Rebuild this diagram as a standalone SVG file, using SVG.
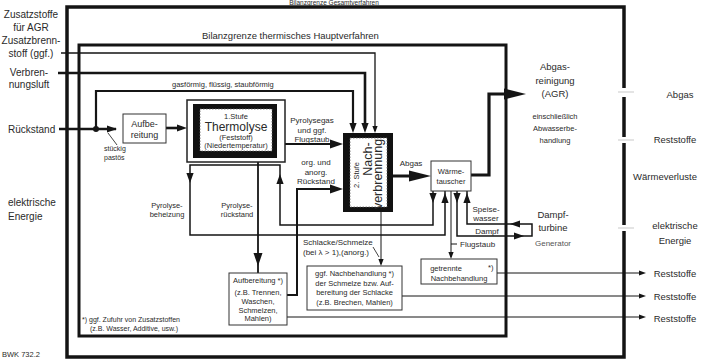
<svg xmlns="http://www.w3.org/2000/svg" width="709" height="360" viewBox="0 0 709 360">
<defs>
<style>
text{font-family:"Liberation Sans",Arial,sans-serif;fill:#2a2a2a}
.t10{font-size:10px}.t95{font-size:9.5px}.t9{font-size:9px}.t8{font-size:8px}.t75{font-size:7.5px}.t7{font-size:7px}
.m{text-anchor:middle}
.box{fill:#fff;stroke:#333;stroke-width:1}
.ln{fill:none;stroke:#151515}
.ah{fill:#151515}
</style>
<path id="a" d="M0,0 L-10,-3.6 L-10,3.6 Z"/>
<path id="aM" d="M0,0 L-13,-4.5 L-13,4.5 Z"/>
<path id="aL" d="M0,0 L-22,-5.5 L-22,5.5 Z"/>
<path id="aS" d="M0,0 L-7,-2.6 L-7,2.6 Z"/>
</defs>
<rect width="709" height="360" fill="#fff"/>

<g id="boundaries">
<text class="m" x="334" y="5" style="font-size:6.5px">Bilanzgrenze Gesamtverfahren</text>
<path d="M624,88 V7 H67 V357 H624 V231 M624,225 V143 M624,137 V97" fill="none" stroke="#141414" stroke-width="3.5"/>
<rect x="79" y="45" width="427" height="291" fill="none" stroke="#141414" stroke-width="3"/>
<text class="t95" x="202" y="39">Bilanzgrenze thermisches Hauptverfahren</text>
<path d="M618,92 H634 M618,140 H634 M618,228 H634" stroke="#bbb" stroke-width="0.8" fill="none"/>
</g>

<g id="connectors">
<g class="ln">
<path d="M61,53 H375 V131" stroke-width="1.3"/>
<path d="M58,73 H365 V128" stroke-width="2.6"/>
<path d="M96,129 V91 H353 V128" stroke-width="2.2"/>
<path d="M59,129 H116" stroke-width="2.6"/>
<path d="M166,128 H182" stroke-width="2.6"/>
<path d="M285,144 H334" stroke-width="2"/>
<path d="M287,295 H297 V189 H334" stroke-width="2"/>
<path d="M258,158 V273" stroke-width="1.8"/>
<path d="M393,176 H412" stroke-width="3"/>
<path d="M471,175 H489 V94 H506" stroke-width="3.2"/>
<path d="M433,187 V225 H280 V165 H190 V235 H445 V187 Z" stroke-width="1.5"/>
<path d="M457,187 V236 H532 V224 H467 V187 Z" stroke-width="1.5"/>
<path d="M381,212 V264" stroke-width="1"/>
<path d="M451,191 V257 M451,244 H457" stroke-width="1"/>
<path d="M497,273 H641 M402,296 H641 M287,317 H641" stroke-width="1"/>
<path d="M108,133 L117,145 M373,247 L379,257" stroke-width="0.8"/>
</g>
<g class="ah">
<use href="#aS" transform="translate(375,133) rotate(90)"/>
<use href="#a" transform="translate(365,133) rotate(90)"/>
<use href="#a" transform="translate(353,133) rotate(90)"/>
<use href="#a" transform="translate(117,129)"/>
<use href="#a" transform="translate(187,128)"/>
<use href="#aM" transform="translate(343,144)"/>
<use href="#aM" transform="translate(343,189)"/>
<use href="#aM" transform="translate(258,266) rotate(90)"/>
<use href="#aL" transform="translate(431,176)"/>
<use href="#aL" transform="translate(526,94)"/>
<use href="#a" transform="translate(433,203) rotate(90)"/>
<use href="#a" transform="translate(280,174) rotate(-90)"/>
<use href="#a" transform="translate(190,183) rotate(90)"/>
<use href="#a" transform="translate(445,193) rotate(-90)"/>
<use href="#a" transform="translate(457,203) rotate(90)"/>
<use href="#a" transform="translate(467,193) rotate(-90)"/>
<use href="#a" transform="translate(524,236)"/>
<use href="#a" transform="translate(510,224) rotate(180)"/>
<use href="#aS" transform="translate(381,266) rotate(90)"/>
<use href="#aS" transform="translate(451,259) rotate(90)"/>
<use href="#aS" transform="translate(646,273)"/>
<use href="#aS" transform="translate(646,296)"/>
<use href="#aS" transform="translate(646,317)"/>
</g>
<circle cx="96" cy="129" r="3" fill="#151515"/>
<text class="t75" x="172" y="86.5">gasförmig, flüssig, staubförmig</text>
<text class="t7" x="104" y="151">stückig</text>
<text class="t7" x="104" y="160">pastös</text>
<text class="t8 m" x="312" y="122.5">Pyrolysegas</text>
<text class="t8 m" x="312" y="132.5">und ggf.</text>
<text class="t8 m" x="312" y="141.5">Flugstaub</text>
<text class="t8 m" x="316" y="165">org. und</text>
<text class="t8 m" x="316" y="175">anorg.</text>
<text class="t8 m" x="316" y="184">Rückstand</text>
<text class="t8 m" x="411" y="166">Abgas</text>
<text class="t75 m" x="167" y="208">Pyrolyse-</text>
<text class="t75 m" x="167" y="217">beheizung</text>
<text class="t75 m" x="237" y="208">Pyrolyse-</text>
<text class="t75 m" x="237" y="217">rückstand</text>
<text class="t8" x="303" y="244.5">Schlacke/Schmelze</text>
<text class="t8" x="303" y="254.5">(bei λ &gt; 1),(anorg.)</text>
<text class="t8 m" x="486" y="212">Speise-</text>
<text class="t8 m" x="486" y="221">wasser</text>
<text class="t8 m" x="487" y="233.5">Dampf</text>
<text class="t8" x="460" y="247">Flugstaub</text>
</g>

<g id="n-aufbereitung">
<rect class="box" x="123" y="114" width="43" height="29"/>
<text class="t9 m" x="144.5" y="126.5">Aufbe-</text>
<text class="t9 m" x="144.5" y="138">reitung</text>
</g>

<g id="n-thermolyse">
<rect x="187" y="100" width="98" height="62" fill="#fff" stroke="#222" stroke-width="1.5"/>
<rect x="193" y="104" width="84" height="54" fill="#111"/>
<rect x="200" y="109" width="72" height="42" fill="#fff" stroke="#666" stroke-width="0.8" stroke-dasharray="1.5 1.5"/>
<text class="t75 m" x="236" y="118.5">1.Stufe</text>
<text class="m" x="236" y="131" style="font-size:12px">Thermolyse</text>
<text class="t75 m" x="236" y="139.5">(Feststoff)</text>
<text class="t75 m" x="236" y="148">(Niedertemperatur)</text>
</g>

<g id="n-nachverbrennung">
<rect x="343" y="133" width="50" height="79" fill="#111"/>
<rect x="350" y="138" width="37" height="69" fill="#fff" stroke="#666" stroke-width="0.8" stroke-dasharray="1.5 1.5"/>
<text class="t75 m" transform="translate(358.5,175) rotate(-90)">2. Stufe</text>
<text class="m" transform="translate(371.5,159) rotate(-90)" style="font-size:12.5px">Nach-</text>
<text class="m" transform="translate(381.5,174) rotate(-90)" style="font-size:12.5px">verbrennung</text>
</g>

<g id="n-waermetauscher">
<rect class="box" x="431" y="161" width="40" height="30"/>
<text class="t75 m" x="451" y="174">Wärme-</text>
<text class="t75 m" x="451" y="184">tauscher</text>
</g>

<g id="n-agr">
<text class="t95 m" x="555" y="70">Abgas-</text>
<text class="t95 m" x="555" y="84">reinigung</text>
<text class="t95 m" x="555" y="97">(AGR)</text>
<text class="t75 m" x="555" y="119">einschließlich</text>
<text class="t75 m" x="555" y="131">Abwasserbe-</text>
<text class="t75 m" x="555" y="143">handlung</text>
</g>

<g id="n-turbine">
<text class="t95 m" x="553" y="218">Dampf-</text>
<text class="t95 m" x="553" y="231">turbine</text>
<text class="t8 m" x="553" y="246" style="fill:#555">Generator</text>
</g>

<g id="n-aufbereitung2">
<rect class="box" x="229" y="273" width="58" height="52"/>
<text class="t75 m" x="258" y="282.5">Aufbereitung *)</text>
<text class="t75 m" x="258" y="294.5">(z.B. Trennen,</text>
<text class="t75 m" x="258" y="303.5">Waschen,</text>
<text class="t75 m" x="258" y="312.5">Schmelzen,</text>
<text class="t75 m" x="258" y="321">Mahlen)</text>
</g>

<g id="n-nachbehandlung">
<rect class="box" x="307" y="266" width="95" height="44"/>
<text class="t75 m" x="354.5" y="276">ggf. Nachbehandlung *)</text>
<text class="t75 m" x="354.5" y="285.5">der Schmelze bzw. Auf-</text>
<text class="t75 m" x="354.5" y="294.5">bereitung der Schlacke</text>
<text class="t75 m" x="354.5" y="305">(z.B. Brechen, Mahlen)</text>
</g>

<g id="n-getrennte">
<rect class="box" x="421" y="259" width="76" height="25"/>
<text class="t75 m" x="446" y="270.5">getrennte</text>
<text class="t75" x="488" y="270">*)</text>
<text class="t75 m" x="459" y="281">Nachbehandlung</text>
</g>

<g id="inputs">
<text class="t10 m" x="31" y="17.5">Zusatzstoffe</text>
<text class="t10 m" x="31" y="30.5">für AGR</text>
<text class="t10 m" x="31" y="43.5">Zusatzbrenn-</text>
<text class="t10 m" x="31" y="56.5">stoff (ggf.)</text>
<text class="t10 m" x="29" y="75.5">Verbren-</text>
<text class="t10 m" x="29" y="88">nungsluft</text>
<text class="t10" x="8" y="132.5">Rückstand</text>
<text class="t10" x="8" y="205.5">elektrische</text>
<text class="t10" x="8" y="220">Energie</text>
</g>

<g id="outputs">
<text class="t95 m" x="680" y="97.5">Abgas</text>
<text class="t95 m" x="675" y="143">Reststoffe</text>
<text class="t95 m" x="665" y="180">Wärmeverluste</text>
<text class="t95 m" x="675" y="229">elektrische</text>
<text class="t95 m" x="675" y="244">Energie</text>
<text class="t95 m" x="675" y="276.5">Reststoffe</text>
<text class="t95 m" x="675" y="299.5">Reststoffe</text>
<text class="t95 m" x="675" y="321.5">Reststoffe</text>
</g>

<g id="notes">
<text class="t7" x="82" y="322">*) ggf. Zufuhr von Zusatzstoffen</text>
<text class="t7" x="90" y="330.5">(z.B. Wasser, Additive, usw.)</text>
<text class="t75" x="2" y="357">BWK 732.2</text>
</g>
</svg>
